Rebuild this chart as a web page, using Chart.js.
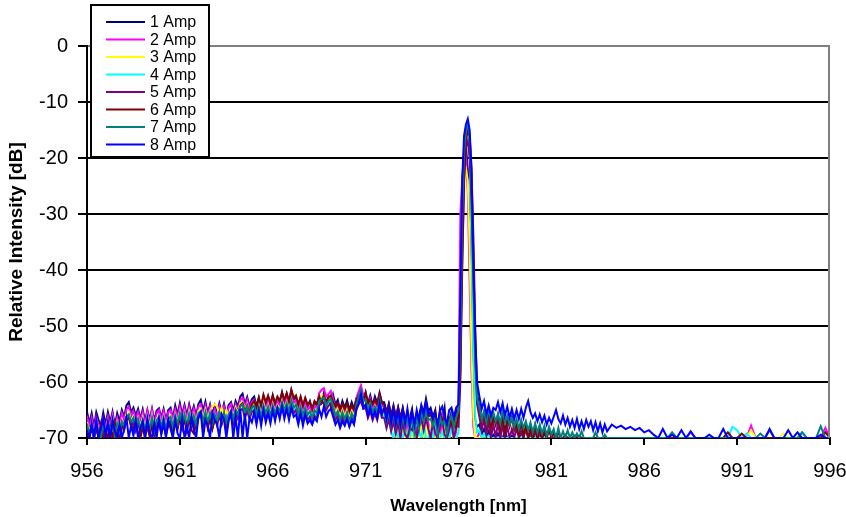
<!DOCTYPE html>
<html>
<head>
<meta charset="utf-8">
<script src="https://cdn.jsdelivr.net/npm/chart.js@4.4.1/dist/chart.umd.min.js"></script>
<style>
    body { margin: 0; background: #fff; }
    #wrap { width: 846px; height: 517px; }
</style>
</head>
<body>
<div id="wrap"><canvas id="chart" width="846" height="517"></canvas></div>
<script>
const wavelengths = [
    956, 956.125, 956.25, 956.375, 956.5, 956.625, 956.75, 956.875,
    957, 957.125, 957.25, 957.375, 957.5, 957.625, 957.75, 957.875,
    958, 958.125, 958.25, 958.375, 958.5, 958.625, 958.75, 958.875,
    959, 959.125, 959.25, 959.375, 959.5, 959.625, 959.75, 959.875,
    960, 960.125, 960.25, 960.375, 960.5, 960.625, 960.75, 960.875,
    961, 961.125, 961.25, 961.375, 961.5, 961.625, 961.75, 961.875,
    962, 962.125, 962.25, 962.375, 962.5, 962.625, 962.75, 962.875,
    963, 963.125, 963.25, 963.375, 963.5, 963.625, 963.75, 963.875,
    964, 964.125, 964.25, 964.375, 964.5, 964.625, 964.75, 964.875,
    965, 965.125, 965.25, 965.375, 965.5, 965.625, 965.75, 965.875,
    966, 966.125, 966.25, 966.375, 966.5, 966.625, 966.75, 966.875,
    967, 967.125, 967.25, 967.375, 967.5, 967.625, 967.75, 967.875,
    968, 968.125, 968.25, 968.375, 968.5, 968.625, 968.75, 968.875,
    969, 969.125, 969.25, 969.375, 969.5, 969.625, 969.75, 969.875,
    970, 970.125, 970.25, 970.375, 970.5, 970.625, 970.75, 970.875,
    971, 971.125, 971.25, 971.375, 971.5, 971.625, 971.75, 971.875,
    972, 972.125, 972.25, 972.375, 972.5, 972.625, 972.75, 972.875,
    973, 973.125, 973.25, 973.375, 973.5, 973.625, 973.75, 973.875,
    974, 974.125, 974.25, 974.375, 974.5, 974.625, 974.75, 974.875,
    975, 975.125, 975.25, 975.375, 975.5, 975.625, 975.75, 975.875,
    976, 976.1, 976.2, 976.3, 976.4, 976.5, 976.6, 976.7, 976.8, 976.9, 977,
    977.125, 977.25, 977.375, 977.5, 977.625, 977.75, 977.875, 978,
    978.125, 978.25, 978.375, 978.5, 978.625, 978.75, 978.875, 979,
    979.125, 979.25, 979.375, 979.5, 979.625, 979.75, 979.875, 980,
    980.125, 980.25, 980.375, 980.5, 980.625, 980.75, 980.875, 981,
    981.125, 981.25, 981.375, 981.5, 981.625, 981.75, 981.875, 982,
    982.125, 982.25, 982.375, 982.5, 982.625, 982.75, 982.875, 983,
    983.125, 983.25, 983.375, 983.5, 983.625, 983.75, 983.875, 984,
    984.25, 984.5, 984.75, 985,
    985.25, 985.5, 985.75, 986,
    986.25, 986.5, 986.75, 987,
    987.25, 987.5, 987.75, 988,
    988.25, 988.5, 988.75, 989,
    989.25, 989.5, 989.75, 990,
    990.25, 990.5, 990.75, 991,
    991.25, 991.5, 991.75, 992,
    992.25, 992.5, 992.75, 993,
    993.25, 993.5, 993.75, 994,
    994.25, 994.5, 994.75, 995,
    995.25, 995.5, 995.75, 996
]

const amp1 = [
    -65.3, -67.4, -65.6, -68.0, -65.4, -66.8, -67.9, -65.5,
    -67.6, -65.4, -67.2, -65.3, -67.8, -65.6, -67.0, -65.0,
    -66.2, -64.2, -63.6, -65.4, -64.6, -66.0, -64.8, -66.6,
    -64.9, -67.0, -65.0, -66.8, -64.8, -66.9, -65.1, -64.7,
    -66.4, -64.8, -66.8, -65.0, -64.6, -66.5, -64.2, -65.8,
    -63.8, -65.8, -64.1, -66.0, -64.0, -65.7, -64.3, -66.0,
    -63.9, -63.2, -65.2, -63.5, -65.6, -64.0, -65.8, -64.2,
    -65.4, -63.8, -65.5, -63.9, -65.8, -64.1, -63.6, -65.2,
    -63.4, -64.4, -62.6, -62.1, -64.0, -62.7, -64.4, -63.1,
    -62.6, -64.3, -62.8, -64.8, -62.5, -64.2, -62.9, -64.6,
    -62.4, -64.0, -62.8, -63.6, -61.8, -63.4, -62.1, -63.8,
    -61.5, -63.2, -62.6, -64.4, -62.9, -64.6, -63.1, -64.4,
    -63.4, -65.0, -63.6, -64.2, -62.4, -63.6, -62.0, -63.8,
    -62.6, -64.4, -62.3, -64.0, -63.2, -65.0, -63.4, -64.6,
    -63.3, -65.0, -63.6, -64.8, -62.9, -62.0, -61.0, -63.2,
    -61.8, -63.8, -62.4, -64.2, -62.6, -63.8, -61.9, -63.6,
    -63.6, -65.4, -63.9, -66.0, -64.2, -66.2, -64.5, -66.4,
    -64.6, -66.8, -70, -66.4, -64.8, -68.4, -70, -66.0,
    -64.2, -65.4, -63.0, -65.2, -64.6, -66.2, -65.0, -70,
    -65.0, -66.8, -64.6, -70, -68.0, -65.2, -67.2, -65.0,
    -66, -42, -24, -19, -18, -22, -34, -52, -63, -67, -68,
    -67.6, -69.4, -68.4, -70, -68.8, -70, -69.4, -70,
    -69.2, -70, -70, -68.8, -70, -70, -69.6, -70,
    -70, -70, -69.0, -70, -70, -70, -70, -69.4,
    -70, -70, -70, -70, -69.3, -70, -70, -70,
    -70, -70, -70, -70, -70, -70, -70, -70,
    -70, -69.6, -70, -70, -70, -70, -70, -70,
    -70, -70, -70, -70, -70, -70, -70, -70,
    -70, -70, -70, -70,
    -70, -70, -70, -70,
    -70, -70, -70, -70,
    -70, -70, -70, -70,
    -70, -70, -70, -70,
    -70, -70, -70, -70,
    -70, -70, -70, -70,
    -70, -70, -70, -70,
    -70, -70, -70, -70,
    -70, -70, -70, -70,
    -70, -70, -70, -70,
    -70, -70, -70, -70
]

const amp2 = [
    -66.0, -68.2, -66.4, -68.6, -66.2, -67.8, -68.8, -66.5,
    -68.4, -66.2, -68.0, -65.8, -68.4, -66.4, -67.8, -65.6,
    -66.8, -64.9, -64.4, -66.2, -65.2, -66.8, -65.4, -67.0,
    -65.4, -67.6, -65.2, -67.4, -65.0, -67.5, -65.6, -65.0,
    -66.8, -65.2, -67.2, -65.4, -65.0, -66.8, -64.9, -66.4,
    -64.4, -66.4, -64.6, -66.6, -64.5, -66.4, -64.8, -66.6,
    -64.4, -64.0, -66.0, -64.2, -66.2, -64.4, -66.4, -64.8,
    -66.0, -64.3, -66.0, -64.4, -66.4, -64.6, -64.0, -65.8,
    -64.0, -65.0, -63.2, -62.8, -64.6, -63.2, -65.0, -63.6,
    -63.2, -64.9, -63.4, -65.4, -63.0, -64.8, -63.4, -65.2,
    -63.0, -64.6, -63.4, -64.2, -62.6, -64.0, -62.8, -64.4,
    -62.4, -63.8, -63.2, -65.0, -63.6, -65.2, -63.8, -65.0,
    -64.4, -65.6, -64.2, -64.8, -62.0, -61.4, -61.1, -62.6,
    -62.2, -61.6, -63.0, -64.8, -64.0, -65.6, -64.2, -65.4,
    -64.2, -65.8, -64.4, -65.4, -63.0, -61.6, -60.6, -62.4,
    -62.4, -64.4, -63.0, -64.8, -63.4, -64.6, -62.4, -64.2,
    -64.4, -66.2, -64.6, -66.8, -65.0, -68.4, -65.6, -70,
    -66.0, -70, -67.4, -70, -66.4, -70, -68.4, -70,
    -66.2, -68.0, -64.6, -67.2, -70, -66.8, -70, -68.6,
    -70, -66.4, -70, -68.4, -70, -66.6, -70, -69.0,
    -64, -30, -24, -21, -20, -26, -42, -58, -68, -70, -70,
    -69.0, -70, -69.4, -70, -70, -70, -70, -70,
    -70, -69.6, -70, -70, -70, -70, -70, -70,
    -70, -70, -70, -70, -70, -70, -70, -70,
    -70, -70, -70, -70, -70, -70, -70, -70,
    -70, -70, -70, -70, -70, -70, -70, -70,
    -70, -70, -70, -70, -70, -70, -70, -70,
    -70, -70, -70, -70, -70, -70, -70, -70,
    -70, -70, -70, -70,
    -70, -70, -70, -70,
    -70, -70, -70, -70,
    -70, -69.4, -70, -70,
    -70, -69.0, -70, -70,
    -70, -70, -70, -70,
    -70, -70, -70, -70,
    -70, -70, -67.8, -70,
    -70, -70, -70, -70,
    -70, -70, -70, -70,
    -70, -70, -70, -70,
    -70, -70, -68.2, -70
]

const amp3 = [
    -67.2, -69.0, -67.4, -69.6, -67.0, -68.6, -69.8, -67.4,
    -69.0, -67.0, -68.8, -66.6, -69.2, -67.2, -68.6, -66.8,
    -67.8, -65.8, -65.4, -67.0, -66.2, -67.8, -66.4, -68.0,
    -66.4, -68.6, -66.2, -68.2, -66.0, -68.4, -66.6, -66.0,
    -67.8, -66.2, -68.2, -66.4, -66.0, -67.8, -65.8, -67.2,
    -65.4, -67.4, -65.6, -67.6, -65.4, -67.2, -65.8, -67.4,
    -65.2, -64.8, -66.6, -65.0, -66.8, -65.2, -64.4, -64.0,
    -64.4, -65.8, -64.6, -66.0, -65.0, -66.4, -65.2, -66.2,
    -64.6, -65.6, -63.8, -63.6, -65.2, -64.0, -65.6, -64.4,
    -64.0, -65.6, -64.2, -66.0, -63.8, -65.4, -64.2, -65.8,
    -64.0, -65.4, -64.2, -65.0, -63.4, -64.8, -63.6, -65.2,
    -63.2, -64.6, -64.0, -65.8, -64.4, -66.0, -64.6, -65.8,
    -65.2, -66.4, -65.0, -65.6, -63.0, -62.4, -62.4, -63.8,
    -63.0, -62.6, -64.0, -65.6, -64.8, -66.4, -65.0, -66.2,
    -65.0, -66.6, -65.2, -66.2, -63.8, -62.6, -62.0, -63.6,
    -63.4, -65.2, -64.0, -65.6, -64.4, -65.6, -63.4, -65.2,
    -65.6, -67.6, -65.8, -68.2, -66.0, -70, -67.4, -70,
    -68.0, -70, -70, -67.0, -70, -68.4, -70, -70,
    -67.4, -70, -66.2, -70, -68.0, -70, -70, -67.6,
    -70, -70, -68.4, -70, -70, -68.8, -70, -70,
    -69, -52, -29, -23, -22, -24, -36, -54, -66, -70, -70,
    -70, -70, -69.6, -70, -70, -70, -70, -70,
    -70, -70, -70, -70, -70, -70, -70, -70,
    -70, -70, -70, -70, -70, -70, -70, -70,
    -70, -70, -70, -70, -70, -70, -70, -70,
    -70, -70, -70, -70, -70, -70, -70, -70,
    -70, -70, -70, -70, -70, -70, -70, -70,
    -70, -70, -70, -70, -70, -70, -70, -70,
    -70, -70, -70, -70,
    -70, -70, -70, -70,
    -70, -70, -70, -70,
    -70, -70, -70, -70,
    -70, -70, -70, -70,
    -70, -70, -70, -70,
    -70, -70, -70, -70,
    -70, -70, -68.6, -70,
    -70, -70, -70, -70,
    -70, -69.2, -70, -70,
    -70, -70, -70, -70,
    -70, -70, -70, -70
]

const amp4 = [
    -67.6, -69.6, -67.8, -70, -67.4, -69.2, -70, -67.8,
    -69.4, -67.4, -69.2, -67.0, -69.6, -67.6, -69.0, -67.2,
    -68.2, -66.2, -65.8, -67.4, -66.6, -68.2, -66.8, -68.4,
    -66.8, -69.0, -66.6, -68.6, -66.4, -68.8, -67.0, -66.4,
    -68.2, -66.6, -68.6, -66.8, -66.4, -68.2, -66.2, -67.6,
    -65.8, -67.8, -66.0, -68.0, -65.8, -67.6, -66.2, -67.8,
    -65.8, -65.2, -67.2, -65.4, -67.4, -65.6, -67.6, -65.8,
    -67.2, -65.4, -67.0, -65.6, -67.4, -65.8, -65.2, -66.8,
    -65.0, -66.0, -64.4, -64.2, -65.8, -64.6, -66.0, -64.8,
    -64.4, -66.0, -64.6, -66.4, -64.2, -65.8, -64.6, -66.2,
    -64.4, -65.8, -64.6, -65.4, -63.8, -65.2, -64.0, -65.6,
    -63.6, -65.0, -64.4, -66.2, -64.8, -66.4, -65.0, -66.2,
    -65.6, -66.8, -65.4, -66.0, -63.6, -63.0, -63.0, -64.4,
    -63.6, -63.2, -64.6, -66.2, -65.4, -67.0, -65.6, -66.8,
    -65.6, -67.2, -65.8, -66.8, -64.4, -63.2, -62.8, -64.2,
    -64.0, -65.8, -64.6, -66.2, -65.0, -66.2, -64.0, -65.8,
    -66.2, -68.2, -66.2, -68.8, -70, -67.4, -70, -68.8,
    -70, -68.4, -70, -70, -67.6, -70, -70, -69.0,
    -70, -67.2, -70, -70, -68.6, -70, -67.4, -70,
    -70, -69.0, -70, -70, -70, -68.4, -70, -70,
    -69, -55, -32, -20, -16, -15, -19, -34, -54, -66, -69,
    -68.6, -70, -69.2, -70, -69.6, -70, -70, -70,
    -70, -70, -70, -70, -70, -70, -70, -70,
    -70, -70, -70, -70, -70, -70, -70, -70,
    -70, -70, -70, -70, -70, -70, -70, -70,
    -70, -70, -70, -70, -70, -70, -70, -70,
    -70, -70, -70, -70, -70, -70, -70, -70,
    -70, -70, -70, -70, -70, -70, -70, -70,
    -70, -70, -70, -70,
    -70, -70, -70, -70,
    -70, -70, -70, -70,
    -70, -70, -70, -70,
    -70, -70, -70, -70,
    -70, -70, -70, -70,
    -70, -70, -68.0, -68.6,
    -70, -69.2, -70, -70,
    -70, -70, -70, -70,
    -70, -70, -70, -70,
    -70, -69.0, -70, -70,
    -70, -70, -70, -70
]

const amp5 = [
    -68.4, -70, -68.2, -70, -68.0, -69.8, -70, -68.4,
    -69.8, -67.8, -69.6, -67.4, -70, -68.0, -69.4, -67.6,
    -68.6, -66.8, -66.4, -68.0, -67.2, -68.8, -67.4, -69.0,
    -67.4, -69.4, -67.2, -69.0, -67.0, -69.2, -67.6, -67.0,
    -68.6, -67.2, -69.0, -67.4, -67.0, -68.6, -66.8, -68.2,
    -66.4, -68.4, -66.6, -68.6, -66.4, -68.2, -66.8, -68.4,
    -66.4, -65.8, -67.8, -66.0, -68.0, -66.2, -68.2, -66.4,
    -67.8, -66.0, -67.6, -66.2, -68.0, -66.4, -65.8, -67.4,
    -65.6, -66.6, -65.0, -64.8, -66.4, -65.2, -66.6, -65.4,
    -65.0, -66.6, -65.2, -67.0, -64.8, -66.4, -65.2, -66.8,
    -65.0, -66.4, -65.2, -66.0, -64.4, -65.8, -64.6, -66.2,
    -64.2, -65.6, -65.0, -66.8, -65.4, -67.0, -65.6, -66.8,
    -66.2, -67.4, -66.0, -66.6, -64.2, -63.8, -63.6, -65.0,
    -64.2, -63.8, -65.2, -66.8, -66.0, -67.6, -66.2, -67.4,
    -66.2, -67.8, -66.4, -67.4, -65.0, -64.0, -63.4, -64.8,
    -64.6, -66.4, -65.2, -66.8, -65.6, -66.8, -64.6, -66.4,
    -66.4, -68.2, -66.6, -68.8, -67.0, -69.2, -67.2, -70,
    -67.2, -69.4, -70, -68.2, -68.6, -67.0, -70, -68.0,
    -66.6, -68.6, -66.4, -68.4, -70, -67.2, -69.2, -70,
    -68.0, -66.8, -69.4, -70, -68.2, -67.4, -70, -67.8,
    -68, -60, -40, -24, -18, -17, -20, -28, -42, -56, -64,
    -66.2, -68.6, -66.6, -69.4, -67.0, -70, -67.4, -70,
    -67.2, -70, -67.8, -70, -68.0, -70, -68.4, -70,
    -68.2, -70, -68.8, -70, -68.4, -70, -69.2, -70,
    -69.0, -70, -69.4, -70, -69.0, -70, -70, -70,
    -70, -69.4, -70, -70, -70, -70, -70, -70,
    -70, -70, -70, -70, -70, -70, -70, -70,
    -70, -70, -70, -70, -70, -70, -70, -70,
    -70, -70, -70, -70,
    -70, -70, -70, -70,
    -70, -70, -70, -70,
    -70, -70, -70, -70,
    -70, -70, -70, -70,
    -70, -70, -70, -70,
    -70, -70, -70, -70,
    -70, -70, -70, -70,
    -70, -70, -70, -70,
    -70, -70, -70, -70,
    -70, -70, -70, -70,
    -70, -70, -70, -70
]

const amp6 = [
    -68.2, -70, -67.8, -70, -68.4, -70, -67.6, -70,
    -68.6, -70, -68.0, -70, -67.4, -69.4, -70, -68.2,
    -67.4, -66.2, -66.0, -67.8, -68.4, -67.0, -69.2, -70,
    -68.0, -70, -67.8, -69.8, -67.6, -69.6, -68.2, -67.2,
    -69.2, -67.6, -69.6, -67.8, -67.2, -69.2, -66.8, -68.4,
    -66.2, -68.2, -66.6, -68.8, -66.4, -68.6, -69.2, -67.0,
    -66.0, -65.4, -67.6, -65.8, -68.2, -66.4, -68.4, -66.8,
    -67.4, -65.6, -67.4, -65.8, -67.8, -66.2, -65.4, -66.8,
    -65.0, -65.8, -64.2, -63.8, -65.4, -64.2, -65.6, -64.0,
    -63.4, -64.6, -62.8, -64.2, -62.3, -63.6, -62.4, -63.8,
    -62.4, -63.8, -62.6, -63.4, -62.0, -63.2, -62.0, -63.4,
    -61.4, -62.8, -62.4, -64.0, -62.6, -64.2, -62.8, -64.0,
    -63.6, -64.8, -63.4, -64.0, -62.6, -63.6, -62.4, -63.6,
    -62.8, -62.4, -63.6, -64.4, -63.8, -65.0, -64.0, -64.8,
    -63.8, -65.2, -64.2, -65.0, -63.2, -62.4, -61.8, -63.4,
    -62.0, -63.8, -63.2, -64.0, -63.2, -64.0, -62.2, -63.8,
    -64.0, -65.6, -64.0, -66.2, -64.4, -66.4, -64.6, -66.8,
    -64.8, -67.0, -65.2, -67.6, -65.4, -68.0, -65.8, -67.6,
    -65.2, -66.0, -64.0, -66.2, -65.8, -67.0, -65.4, -68.4,
    -65.6, -67.0, -66.2, -69.0, -66.4, -67.6, -66.8, -68.0,
    -66, -58, -38, -24, -17, -15, -16, -22, -34, -50, -62,
    -64.6, -67.0, -65.4, -67.8, -65.2, -68.2, -66.0, -67.6,
    -65.8, -68.4, -66.2, -69.0, -66.6, -68.0, -66.2, -68.6,
    -67.6, -69.4, -67.2, -69.6, -67.8, -70, -68.2, -70,
    -67.8, -70, -68.4, -70, -68.8, -70, -68.6, -70,
    -69.2, -70, -69.0, -70, -70, -69.4, -70, -70,
    -70, -70, -70, -69.6, -70, -70, -70, -70,
    -70, -70, -70, -70, -70, -70, -70, -70,
    -70, -70, -70, -70,
    -70, -70, -70, -70,
    -70, -70, -70, -70,
    -70, -70, -70, -70,
    -70, -70, -70, -70,
    -70, -70, -70, -70,
    -70, -69.0, -70, -70,
    -69.2, -70, -70, -70,
    -70, -70, -70, -70,
    -70, -70, -70, -70,
    -70, -70, -70, -70,
    -70, -70, -69.0, -70
]

const amp7 = [
    -67.4, -69.4, -67.6, -69.8, -67.2, -69.0, -70, -67.6,
    -69.2, -67.2, -69.0, -66.8, -69.4, -67.4, -68.8, -67.0,
    -68.0, -66.2, -65.8, -67.2, -66.4, -68.0, -66.6, -68.4,
    -66.8, -68.8, -66.6, -68.4, -66.4, -68.6, -66.8, -66.2,
    -68.0, -66.4, -68.4, -66.6, -66.2, -68.0, -66.0, -67.4,
    -65.6, -67.6, -65.8, -67.8, -65.8, -67.4, -66.0, -67.6,
    -65.6, -65.2, -67.0, -65.4, -67.2, -65.6, -67.4, -65.8,
    -67.0, -65.4, -67.0, -65.6, -67.2, -65.8, -65.2, -66.6,
    -65.0, -65.8, -64.4, -64.0, -65.6, -64.4, -65.8, -64.6,
    -64.2, -65.8, -64.4, -66.2, -64.2, -65.6, -64.4, -66.0,
    -64.2, -65.6, -64.4, -65.2, -63.6, -65.0, -63.8, -65.4,
    -63.2, -64.6, -64.0, -65.8, -64.4, -66.0, -64.6, -65.8,
    -65.2, -66.4, -65.0, -65.6, -63.4, -63.0, -62.8, -64.2,
    -63.4, -63.0, -64.4, -66.0, -65.2, -66.8, -65.4, -66.6,
    -65.4, -67.0, -65.6, -66.6, -64.2, -62.6, -61.4, -63.4,
    -63.2, -65.0, -63.8, -65.4, -64.4, -65.4, -63.2, -65.0,
    -65.2, -67.0, -65.2, -67.6, -65.6, -67.8, -65.8, -68.2,
    -66.0, -68.2, -66.2, -68.6, -66.4, -69.0, -66.6, -68.4,
    -65.4, -67.0, -65.0, -66.8, -66.6, -67.8, -66.4, -69.2,
    -66.2, -67.6, -66.8, -69.2, -67.0, -66.0, -68.2, -66.4,
    -65, -52, -30, -19, -15, -14, -16, -24, -40, -55, -63,
    -64.4, -66.6, -65.2, -67.2, -64.8, -66.8, -65.4, -67.0,
    -65.8, -67.4, -65.0, -67.2, -66.0, -67.6, -66.4, -68.0,
    -66.6, -68.4, -66.8, -68.2, -67.0, -68.6, -67.2, -69.0,
    -67.4, -69.0, -67.6, -69.2, -67.8, -69.6, -68.0, -69.4,
    -68.4, -70, -68.2, -70, -68.8, -70, -68.6, -70,
    -69.0, -70, -69.2, -70, -68.8, -70, -70, -70,
    -70, -70, -69.0, -70, -70, -70, -69.4, -70,
    -70, -70, -70, -70,
    -70, -70, -70, -70,
    -70, -70, -70, -70,
    -70, -69.0, -70, -70,
    -70, -70, -70, -70,
    -70, -70, -70, -70,
    -70, -70, -70, -70,
    -70, -70, -70, -70,
    -69.2, -70, -68.6, -70,
    -70, -70, -70, -70,
    -70, -69.0, -70, -70,
    -70, -67.9, -70, -70
]

const amp8 = [
    -68.6, -70, -67.4, -69.8, -66.8, -70, -68.2, -66.6,
    -69.6, -67.2, -70, -66.8, -68.8, -70, -67.6, -70,
    -68.4, -66.4, -70, -67.8, -69.6, -66.8, -70, -68.2,
    -67.0, -70, -66.6, -69.2, -70, -67.4, -70, -66.6,
    -69.4, -67.0, -70, -66.6, -68.4, -70, -66.8, -69.2,
    -70, -66.4, -70, -67.8, -70, -66.2, -68.4, -70,
    -66.2, -65.4, -70, -66.8, -67.6, -70, -65.6, -66.8,
    -67.4, -70, -65.8, -66.6, -70, -67.0, -65.4, -70,
    -66.2, -70, -64.8, -70, -65.6, -70, -66.4, -67.2,
    -65.4, -67.6, -65.2, -67.8, -65.0, -67.2, -65.6, -67.4,
    -65.0, -67.0, -64.8, -66.6, -64.4, -66.6, -64.8, -66.8,
    -64.6, -66.2, -65.8, -67.6, -65.6, -67.8, -65.8, -67.4,
    -66.8, -67.6, -66.4, -67.0, -64.8, -66.2, -64.4, -66.2,
    -65.2, -64.8, -66.2, -67.6, -66.8, -68.2, -67.0, -67.8,
    -66.6, -68.0, -66.8, -67.6, -64.8, -63.8, -62.2, -64.6,
    -64.0, -66.0, -64.6, -66.4, -65.2, -66.4, -63.8, -65.8,
    -64.6, -66.6, -64.4, -67.2, -64.8, -67.4, -65.0, -67.6,
    -65.0, -67.4, -64.8, -67.8, -65.4, -67.6, -65.0, -67.0,
    -64.2, -65.8, -63.6, -65.8, -65.2, -66.4, -65.6, -67.6,
    -65.2, -64.4, -66.4, -67.4, -65.0, -64.6, -66.2, -64.6,
    -64, -44, -24, -16, -14, -13, -15, -22, -38, -52, -60,
    -62.6, -64.8, -63.4, -65.8, -64.2, -66.0, -64.6, -65.0,
    -63.6, -65.4, -63.8, -66.0, -64.4, -66.4, -64.8, -66.6,
    -65.0, -66.6, -64.8, -66.4, -64.6, -63.4, -65.4, -66.4,
    -65.6, -67.0, -65.8, -67.2, -66.0, -67.6, -66.4, -67.4,
    -66.2, -65.0, -66.6, -67.4, -66.0, -67.6, -66.4, -68.0,
    -66.8, -68.2, -66.6, -68.4, -67.0, -68.4, -66.8, -68.0,
    -67.0, -68.6, -67.2, -68.8, -67.4, -69.0, -67.6, -68.8,
    -67.6, -68.2, -67.8, -68.4,
    -68.0, -68.6, -68.2, -69.0,
    -68.6, -69.4, -70, -68.4,
    -70, -69.4, -70, -68.6,
    -70, -68.8, -70, -70,
    -70, -69.4, -70, -70,
    -68.4, -70, -70, -70,
    -70, -70, -70, -70,
    -70, -70, -68.4, -70,
    -70, -70, -68.6, -70,
    -69.0, -70, -70, -70,
    -70, -69.4, -70, -70
]

const seriesLabels = ["1 Amp", "2 Amp", "3 Amp", "4 Amp", "5 Amp", "6 Amp", "7 Amp", "8 Amp"]
const seriesColors = ["#000080", "#FF00FF", "#FFFF00", "#00FFFF", "#800080", "#800000", "#008080", "#0000FF"]
const xTicks = [956, 961, 966, 971, 976, 981, 986, 991, 996]

const allSeries = [amp1, amp2, amp3, amp4, amp5, amp6, amp7, amp8]

Chart.defaults.font.family = "'Liberation Sans', Arial, sans-serif"
Chart.defaults.color = "#000"

// legend box + gray plot frame, drawn like the Excel original
const boxLegend = {
    id: "boxLegend",
    afterDraw(chart) {
        const { ctx, chartArea } = chart
        ctx.save()
        ctx.strokeStyle = "#808080"
        ctx.lineWidth = 2
        ctx.beginPath()
        ctx.moveTo(chartArea.right - 1, chartArea.top)
        ctx.lineTo(chartArea.right - 1, chartArea.bottom)
        ctx.stroke()

        ctx.fillStyle = "#fff"
        ctx.fillRect(91, 5, 118, 152)
        ctx.strokeStyle = "#000"
        ctx.lineWidth = 2
        ctx.strokeRect(91, 5, 118, 152)

        ctx.font = "16px 'Liberation Sans', Arial, sans-serif"
        ctx.textBaseline = "middle"
        ctx.textAlign = "left"
        chart.data.datasets.forEach((ds, i) => {
            const y = 22 + i * 17.5
            ctx.strokeStyle = ds.borderColor
            ctx.beginPath()
            ctx.moveTo(106, y)
            ctx.lineTo(145, y)
            ctx.stroke()
            ctx.fillStyle = "#000"
            ctx.fillText(ds.label, 150, y + 1)
        })
        ctx.restore()
    },
}

const datasets = allSeries.map((values, i) => ({
    label: seriesLabels[i],
    data: wavelengths.map((w, j) => ({ x: w, y: values[j] })),
    borderColor: seriesColors[i],
    backgroundColor: seriesColors[i],
    borderWidth: 2,
    pointRadius: 0,
    tension: 0,
    order: allSeries.length - i,
}))

const config = {
    type: "line",
    data: { datasets },
    options: {
        responsive: false,
        animation: false,
        layout: {
            padding: { top: 46, right: 16, left: 0, bottom: 0 },
        },
        plugins: {
            legend: { display: false },
            tooltip: { enabled: false },
        },
        scales: {
            x: {
                type: "linear",
                min: 956,
                max: 996,
                afterBuildTicks: (scale) => {
                    scale.ticks = xTicks.map((v) => ({ value: v }))
                },
                afterFit: (scale) => {
                    scale.height = 79
                    scale.paddingLeft = 0
                    scale.paddingRight = 0
                },
                border: { display: true, color: "#000", width: 2 },
                grid: {
                    drawOnChartArea: false,
                    drawTicks: true,
                    tickLength: 7,
                    tickColor: "#000",
                    lineWidth: 2,
                },
                ticks: {
                    padding: 14,
                    maxRotation: 0,
                    autoSkip: false,
                    font: { size: 20 },
                },
                title: {
                    display: true,
                    text: "Wavelength [nm]",
                    font: { size: 17, weight: "bold" },
                    padding: { top: 0, bottom: 0 },
                },
            },
            y: {
                min: -70,
                max: 0,
                afterFit: (scale) => {
                    scale.width = 87
                },
                border: { display: true, color: "#000", width: 2 },
                grid: {
                    color: (ctx) => (ctx.tick && ctx.tick.value === 0 ? "#808080" : "#000"),
                    lineWidth: 2,
                    tickLength: 9,
                    tickColor: "#000",
                },
                ticks: {
                    stepSize: 10,
                    padding: 10,
                    font: { size: 20 },
                },
                title: {
                    display: true,
                    text: "Relative Intensity [dB]",
                    font: { size: 19, weight: "bold" },
                    padding: { top: 5, bottom: 0 },
                },
            },
        },
    },
    plugins: [boxLegend],
}

const chart = new Chart(document.getElementById("chart"), config)
</script>
</body>
</html>
